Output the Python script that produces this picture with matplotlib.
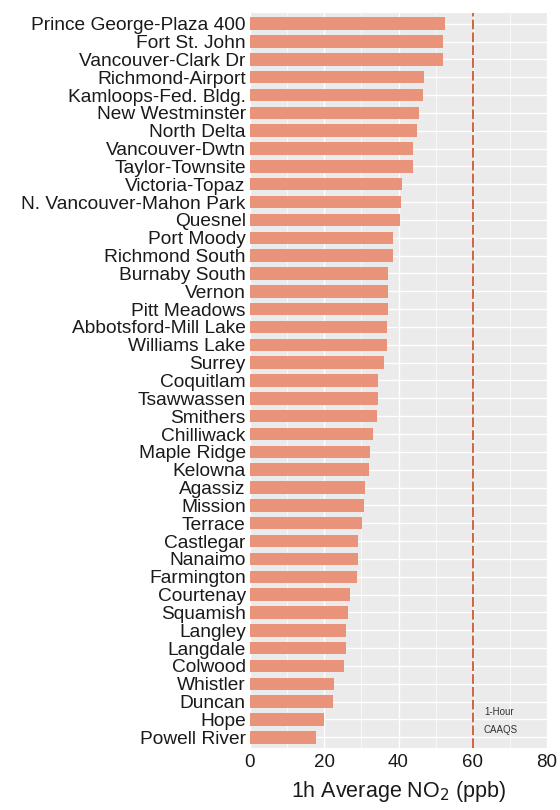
import matplotlib.pyplot as plt
from matplotlib.ticker import MultipleLocator

plt.rcParams['font.family'] = ['Liberation Sans', 'DejaVu Sans']

# station names, top to bottom
stations = ['Prince George-Plaza 400', 'Fort St. John', 'Vancouver-Clark Dr',
            'Richmond-Airport', 'Kamloops-Fed. Bldg.', 'New Westminster',
            'North Delta', 'Vancouver-Dwtn', 'Taylor-Townsite', 'Victoria-Topaz',
            'N. Vancouver-Mahon Park', 'Quesnel', 'Port Moody', 'Richmond South',
            'Burnaby South', 'Vernon', 'Pitt Meadows', 'Abbotsford-Mill Lake',
            'Williams Lake', 'Surrey', 'Coquitlam', 'Tsawwassen', 'Smithers',
            'Chilliwack', 'Maple Ridge', 'Kelowna', 'Agassiz', 'Mission',
            'Terrace', 'Castlegar', 'Nanaimo', 'Farmington', 'Courtenay',
            'Squamish', 'Langley', 'Langdale', 'Colwood', 'Whistler', 'Duncan',
            'Hope', 'Powell River']

# 1h average NO2 (ppb)
no2 = [52.6, 52.1, 51.9, 46.9, 46.5, 45.4, 44.9, 44.0, 43.8, 41.0,
       40.6, 40.4, 38.6, 38.5, 37.3, 37.3, 37.2, 37.0, 36.8, 36.1,
       34.6, 34.4, 34.1, 33.2, 32.2, 32.0, 31.0, 30.8, 30.1, 29.2,
       29.0, 28.8, 27.0, 26.5, 25.9, 25.9, 25.4, 22.6, 22.3, 19.8, 17.8]

caaqs = 60
xticks = [0, 20, 40, 60, 80]

fig = plt.figure(figsize=(5.6, 8.1), dpi=100)
ax = fig.add_axes([0.4464, 0.0765, 0.5305, 0.9075])

ypos = list(range(len(stations)))
ax.set_facecolor('#EBEBEB')
ax.set_axisbelow(True)
ax.barh(ypos, no2, height=0.7, color='#E9937A', zorder=2)
ax.axvline(caaqs, color='#D4643F', linestyle=(0, (5, 1.6)), linewidth=1.4, zorder=3)
ax.text(caaqs + 3.0, len(stations) - 1.9, '1-Hour\nCAAQS', fontsize=7,
        color='#333333', va='center', ha='left', linespacing=2.0, zorder=4)

ax.set_xlim(0, 80)
ax.set_ylim(len(stations) - 0.4, -0.6)
ax.set_xticks(xticks)
ax.xaxis.set_minor_locator(MultipleLocator(10))
ax.set_yticks(ypos)
ax.set_yticklabels(stations)
ax.grid(which='major', color='white', linewidth=1.0)
ax.grid(which='minor', axis='x', color='white', linewidth=0.5)
ax.tick_params(axis='both', which='both', length=0, labelcolor='#1a1a1a')
ax.tick_params(axis='y', labelsize=13.8, pad=3)
ax.tick_params(axis='x', labelsize=13.5, pad=4)
for s in ax.spines.values():
    s.set_visible(False)

ax.set_xlabel('1h Average NO$_2$ (ppb)', fontsize=15.5, color='#1a1a1a', labelpad=6)

fig.savefig('out.png', dpi=100)
